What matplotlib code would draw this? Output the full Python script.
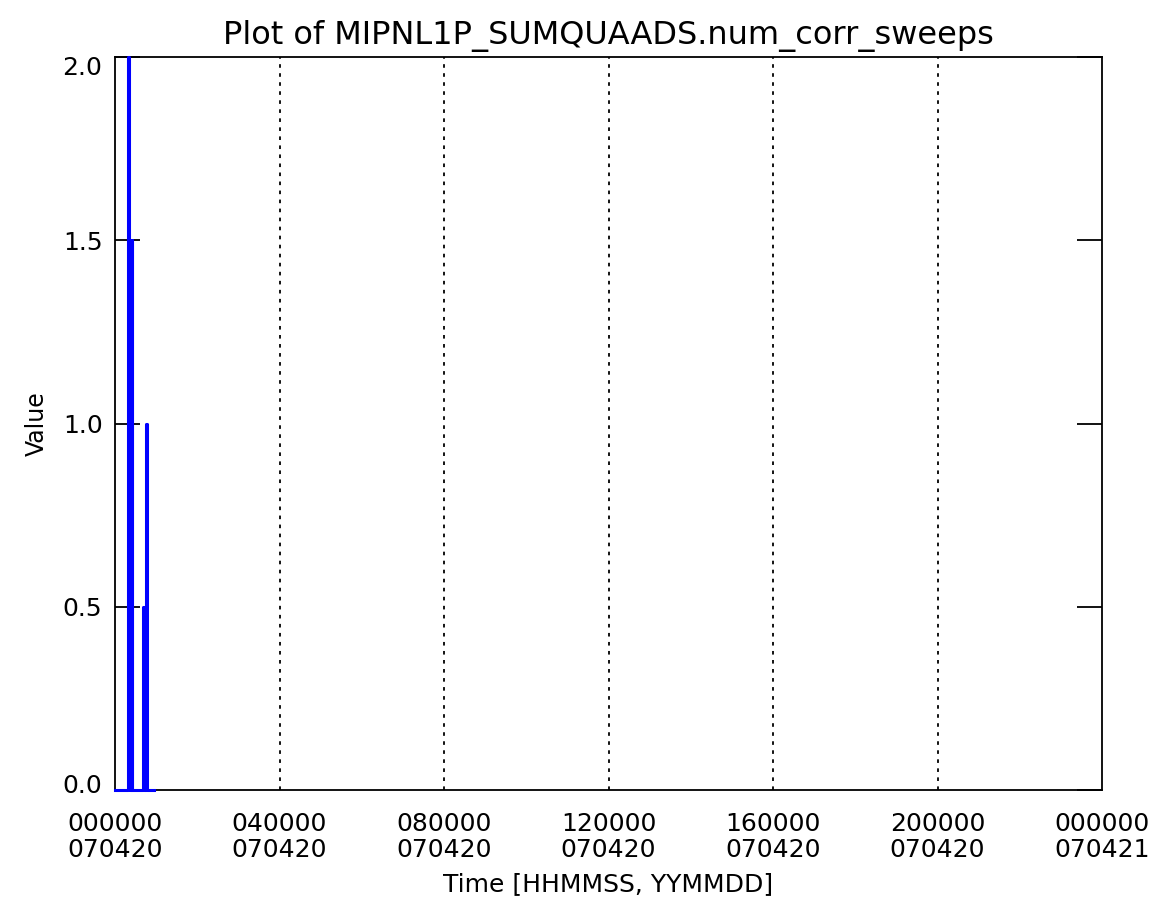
import matplotlib
matplotlib.use("Agg")
import matplotlib.pyplot as plt
import matplotlib.transforms as mtransforms

# time in hours since 000000 070420
times = [0.00, 0.05, 0.10, 0.15, 0.20, 0.25, 0.30, 0.33, 0.35, 0.36, 0.37, 0.38, 0.39,
         0.40, 0.41, 0.42, 0.45, 0.50, 0.55, 0.60, 0.65, 0.69, 0.70, 0.71, 0.72, 0.73,
         0.74, 0.75, 0.76, 0.77, 0.80, 0.85, 0.90, 0.95]
values = [0.0, 0.0, 0.0, 0.0, 0.0, 0.0, 0.0, 2.0, 1.5, 0.0, 1.5, 0.0, 1.5,
          0.0, 1.5, 0.0, 0.0, 0.0, 0.0, 0.0, 0.0, 0.5, 0.0, 0.5, 0.0, 0.5,
          0.0, 0.5, 0.0, 1.0, 0.0, 0.0, 0.0, 0.0]

xtick_pos = [0, 4, 8, 12, 16, 20, 24]
xtick_labels = ["000000\n070420", "040000\n070420", "080000\n070420", "120000\n070420",
                "160000\n070420", "200000\n070420", "000000\n070421"]
ytick_pos = [0.0, 0.5, 1.0, 1.5, 2.0]

fig = plt.figure(figsize=(11.57, 9.07), dpi=100)
ax = fig.add_axes([115 / 1157, 1 - 790 / 907, (1102 - 115) / 1157, (790 - 57) / 907])
ax.plot(times, values, drawstyle="steps-mid", color="#0000ff", lw=2.2,
        zorder=3, clip_on=False)
ax.set_xlim(0, 24)
ax.set_ylim(0, 2.0)
for xv in xtick_pos[1:-1]:
    ax.axvline(xv, color="black", ls=(0, (2, 3)), lw=1.3)
ax.set_xticks(xtick_pos)
ax.set_xticklabels(xtick_labels, fontsize=18, linespacing=1.1)
ax.tick_params(axis="x", length=0, pad=16)
ax.set_yticks(ytick_pos)
ax.set_yticklabels([f"{v:.1f}" for v in ytick_pos], fontsize=18)
ax.tick_params(axis="y", direction="in", length=18, width=1.3, left=True, right=True, pad=9)
ylabels = ax.get_yticklabels()
ylabels[0].set_transform(ylabels[0].get_transform() +
                         mtransforms.ScaledTranslation(0, 5 / 72, fig.dpi_scale_trans))
ylabels[-1].set_transform(ylabels[-1].get_transform() +
                          mtransforms.ScaledTranslation(0, -6 / 72, fig.dpi_scale_trans))
for s in ax.spines.values():
    s.set_linewidth(1.3)
ax.set_xlabel("Time [HHMMSS, YYMMDD]", fontsize=18, labelpad=7)
ax.set_ylabel("Value", fontsize=17, labelpad=10)
ax.set_title("Plot of MIPNL1P_SUMQUAADS.num_corr_sweeps", fontsize=23, pad=9)
fig.savefig("out.png", dpi=100)
